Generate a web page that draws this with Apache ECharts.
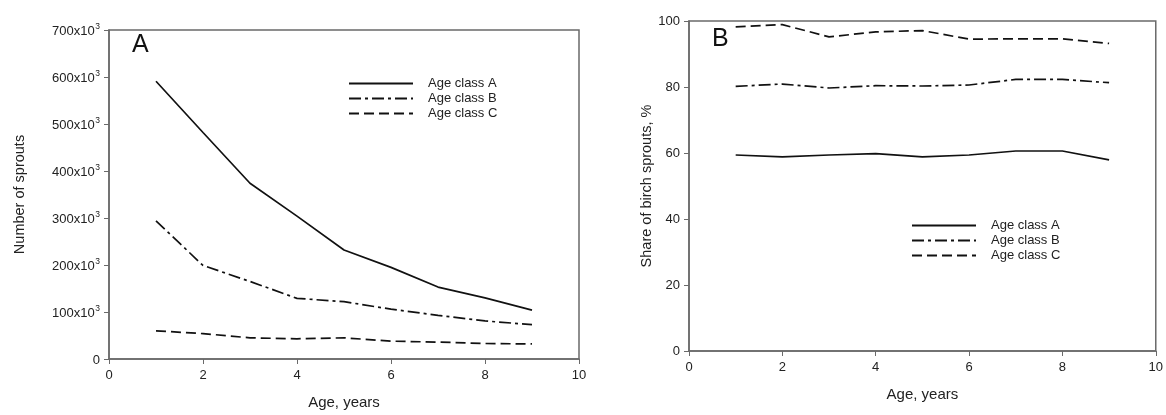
<!DOCTYPE html>
<html>
<head>
<meta charset="utf-8">
<script src="https://cdn.jsdelivr.net/npm/echarts@6/dist/echarts.min.js"></script>
<style>
html,body{margin:0;padding:0;background:#fff;}
#c{width:1166px;height:415px;}
</style>
</head>
<body>
<div id="c"></div>
<script>
// Data
const ages = [1, 2, 3, 4, 5, 6, 7, 8, 9];
const seriesNames = ['Age class A', 'Age class B', 'Age class C'];
// Panel A: number of sprouts
const sproutsA = [591000, 482000, 374000, 304000, 232000, 195000, 153000, 130000, 104000];
const sproutsB = [294000, 199000, 165000, 129000, 122000, 106000, 93000, 81000, 73000];
const sproutsC = [60000, 54000, 45000, 43000, 45000, 38000, 36000, 33000, 32000];
// Panel B: share of birch sprouts, %
const shareA = [59.4, 58.8, 59.4, 59.8, 58.8, 59.4, 60.6, 60.6, 57.9];
const shareB = [80.2, 80.9, 79.7, 80.4, 80.3, 80.6, 82.3, 82.3, 81.3];
const shareC = [98.2, 98.9, 95.2, 96.7, 97.1, 94.5, 94.6, 94.6, 93.2];
// Tick labels
const xTicks = [0, 2, 4, 6, 8, 10];
const yTicksA = [0, 100000, 200000, 300000, 400000, 500000, 600000, 700000];
const yTicksB = [0, 20, 40, 60, 80, 100];

const FONT = 'Liberation Sans, Arial, sans-serif';
const axisCol = '#6a6a6a';
const txtCol = '#222';
const lineStyles = [
  {type: 'solid'},
  {type: [12, 4, 3, 4]},
  {type: [10, 5]}
];

function pairs(xs, ys){ return xs.map((x,i)=>[x, ys[i]]); }

function xAxisCfg(gi){
  return {
    gridIndex: gi, type: 'value', min: 0, max: 10, interval: 2,
    name: 'Age, years', nameLocation: 'middle', nameGap: 36,
    nameTextStyle: {fontFamily: FONT, fontSize: 15, color: txtCol},
    axisLine: {lineStyle: {color: axisCol, width: 1.5}},
    axisTick: {inside: false, length: 5, lineStyle: {color: axisCol}},
    axisLabel: {fontFamily: FONT, fontSize: 13, color: txtCol, margin: 10},
    splitLine: {show: false}
  };
}

const chart = echarts.init(document.getElementById('c'));
const dataA = [sproutsA, sproutsB, sproutsC];
const dataB = [shareA, shareB, shareC];
const series = [];
seriesNames.forEach((n, i) => {
  series.push({type: 'line', name: n, xAxisIndex: 0, yAxisIndex: 0, data: pairs(ages, dataA[i]),
    symbol: 'none', lineStyle: Object.assign({color: '#111', width: 1.7}, lineStyles[i]), itemStyle: {color: '#111'}, z: 3});
  series.push({type: 'line', name: n, xAxisIndex: 1, yAxisIndex: 1, data: pairs(ages, dataB[i]),
    symbol: 'none', lineStyle: Object.assign({color: '#111', width: 1.7}, lineStyles[i]), itemStyle: {color: '#111'}, z: 3});
});

const legendCommon = {
  orient: 'vertical', itemWidth: 64, itemHeight: 10, itemGap: 0,
  itemStyle: {opacity: 0},
  textStyle: {fontFamily: FONT, fontSize: 13, color: txtCol, padding: [0,0,0,10], lineHeight: 15},
  data: seriesNames, selectedMode: false
};

chart.setOption({
  animation: false,
  backgroundColor: '#fff',
  grid: [
    {left: 109, top: 30, width: 470, height: 329, show: true, borderColor: axisCol, borderWidth: 1.5, containLabel: false},
    {left: 689, top: 21, width: 467, height: 330, show: true, borderColor: axisCol, borderWidth: 1.5, containLabel: false}
  ],
  legend: [
    Object.assign({left: 343, top: 71}, legendCommon),
    Object.assign({left: 906, top: 213}, legendCommon)
  ],
  xAxis: [xAxisCfg(0), xAxisCfg(1)],
  yAxis: [
    {gridIndex: 0, type: 'value', min: 0, max: 700000, interval: 100000,
     name: 'Number of sprouts', nameLocation: 'middle', nameGap: 82,
     nameTextStyle: {fontFamily: FONT, fontSize: 14.5, color: txtCol},
     axisLine: {show: true, lineStyle: {color: axisCol, width: 1.5}},
     axisTick: {show: true, length: 5, lineStyle: {color: axisCol}},
     axisLabel: {fontFamily: FONT, fontSize: 13, color: txtCol, margin: 9,
       formatter: v => v === 0 ? '{a|0}' : '{a|' + (v/1000) + 'x10}{s|3}',
       rich: {a: {fontFamily: FONT, fontSize: 13, color: txtCol, lineHeight: 16, verticalAlign: 'bottom'},
              s: {fontFamily: FONT, fontSize: 8.5, color: txtCol, lineHeight: 16, verticalAlign: 'top', padding: [0,0,0,0.5]}}},
     splitLine: {show: false}},
    {gridIndex: 1, type: 'value', min: 0, max: 100, interval: 20,
     name: 'Share of birch sprouts, %', nameLocation: 'middle', nameGap: 31,
     nameTextStyle: {fontFamily: FONT, fontSize: 14.5, color: txtCol},
     axisLine: {show: true, lineStyle: {color: axisCol, width: 1.5}},
     axisTick: {show: true, length: 5, lineStyle: {color: axisCol}},
     axisLabel: {fontFamily: FONT, fontSize: 13, color: txtCol, margin: 9},
     splitLine: {show: false}}
  ],
  graphic: [
    {type: 'text', left: 132, top: 33, style: {text: 'A', fontFamily: FONT, fontSize: 25, fill: '#111'}},
    {type: 'text', left: 712, top: 27, style: {text: 'B', fontFamily: FONT, fontSize: 25, fill: '#111'}}
  ],
  series: series
});
</script>
</body>
</html>
